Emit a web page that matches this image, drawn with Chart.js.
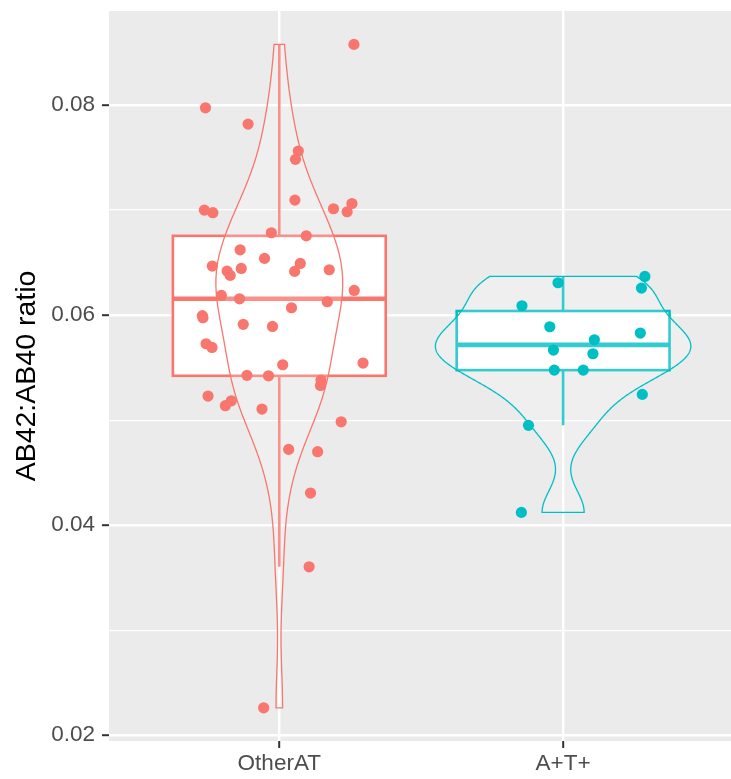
<!DOCTYPE html>
<html>
<head>
<meta charset="utf-8">
<script src="https://cdn.jsdelivr.net/npm/chart.js@4.4.1/dist/chart.umd.min.js"></script>
<style>
  html, body { margin: 0; padding: 0; background: #fff; overflow: hidden; }
  #wrap { width: 731px; height: 779px; }
</style>
</head>
<body>
<div id="wrap"><canvas id="ratioChart"></canvas></div>
<script>
// --- data ---
const categories = ['OtherAT', 'A+T+'];
const colors = ['#F8766D', '#00BFC4'];

const otherValues = [
    0.08578, 0.07974, 0.07819, 0.07562, 0.07483, 0.07095, 0.07000, 0.06975, 0.07013, 0.07063,
    0.06984, 0.06784, 0.06755, 0.06622, 0.06540, 0.06467, 0.06419, 0.06378, 0.06444, 0.06492,
    0.06416, 0.06432, 0.06235, 0.06187, 0.06155, 0.06127, 0.06070, 0.05995, 0.05975, 0.05912,
    0.05892, 0.05727, 0.05692, 0.05527, 0.05543, 0.05426, 0.05422, 0.05381, 0.05330, 0.05229,
    0.05137, 0.05184, 0.05105, 0.04984, 0.04721, 0.04699, 0.04305, 0.03603, 0.02260
];
// horizontal jitter of each point, in category units
const otherJitter = [
    0.263, -0.260, -0.110, 0.067, 0.057, 0.055, -0.264, -0.234, 0.191, 0.256,
    0.239, -0.028, 0.095, -0.138, -0.052, -0.236, -0.184, -0.173, -0.134, 0.074,
    0.054, 0.176, 0.264, -0.204, -0.140, 0.169, 0.043, -0.271, -0.269, -0.127,
    -0.024, -0.258, -0.237, 0.012, 0.295, -0.114, -0.038, 0.147, 0.145, -0.251,
    -0.190, -0.169, -0.061, 0.218, 0.033, 0.135, 0.110, 0.105, -0.055
];

const atValues = [
    0.06368, 0.06257, 0.06308, 0.06089, 0.05889, 0.05829, 0.05765,
    0.05667, 0.05632, 0.05476, 0.05476, 0.05245, 0.04950, 0.04121
];
const atJitter = [
    0.288, 0.276, -0.018, -0.145, -0.047, 0.272, 0.110,
    -0.034, 0.105, -0.031, 0.071, 0.279, -0.122, -0.147
];

const yMajor = [0.02, 0.04, 0.06, 0.08];
const yMinor = [0.03, 0.05, 0.07];
const groups = [otherValues, atValues];

// --- stats (same as R: quantile type 7, bw.nrd0) ---
function quantile(arr, p) {
    const s = [...arr].sort((a, b) => a - b);
    const h = (s.length - 1) * p;
    const lo = Math.floor(h);
    return s[lo] + (h - lo) * ((s[lo + 1] ?? s[lo]) - s[lo]);
}
function sd(arr) {
    const m = arr.reduce((a, b) => a + b, 0) / arr.length;
    return Math.sqrt(arr.reduce((a, b) => a + (b - m) ** 2, 0) / (arr.length - 1));
}
function boxStats(arr) {
    const q1 = quantile(arr, 0.25), med = quantile(arr, 0.5), q3 = quantile(arr, 0.75);
    const iqr = q3 - q1;
    const inside = arr.filter(v => v >= q1 - 1.5 * iqr && v <= q3 + 1.5 * iqr);
    return { q1, med, q3, lo: Math.min(...inside), hi: Math.max(...inside) };
}
function density(arr) {
    const iqr = quantile(arr, 0.75) - quantile(arr, 0.25);
    const bw = 0.9 * Math.min(sd(arr), iqr / 1.34) * Math.pow(arr.length, -0.2);
    const min = Math.min(...arr), max = Math.max(...arr);
    const out = [];
    for (let i = 0; i < 512; i++) {
        const y = min + (max - min) * i / 511;
        let d = 0;
        arr.forEach(v => { const z = (y - v) / bw; d += Math.exp(-0.5 * z * z); });
        out.push({ y, d: d / (arr.length * bw * Math.sqrt(2 * Math.PI)) });
    }
    return out;
}

const boxes = groups.map(boxStats);
const dens = groups.map(density);
const maxDens = Math.max(...dens.flat().map(p => p.d));

// --- background + box + violin layers ---
const panelBg = {
    id: 'panelBg',
    beforeDraw(chart) {
        const { ctx, chartArea: a } = chart;
        ctx.save();
        ctx.fillStyle = '#EBEBEB';
        ctx.fillRect(a.left, a.top, a.right - a.left, a.bottom - a.top);
        ctx.restore();
    }
};

const boxViolin = {
    id: 'boxViolin',
    beforeDatasetsDraw(chart) {
        const { ctx, chartArea: a, scales: { x, y } } = chart;
        ctx.save();
        ctx.beginPath();
        ctx.rect(a.left, a.top, a.right - a.left, a.bottom - a.top);
        ctx.clip();

        boxes.forEach((b, i) => {
            const c = i + 1;
            const xl = x.getPixelForValue(c - 0.375), xr = x.getPixelForValue(c + 0.375);
            const xc = x.getPixelForValue(c);
            ctx.strokeStyle = colors[i];
            ctx.lineWidth = 2.6;
            // whiskers
            ctx.beginPath();
            ctx.moveTo(xc, y.getPixelForValue(b.q3));
            ctx.lineTo(xc, y.getPixelForValue(b.hi));
            ctx.moveTo(xc, y.getPixelForValue(b.q1));
            ctx.lineTo(xc, y.getPixelForValue(b.lo));
            ctx.stroke();
            // box
            const yt = y.getPixelForValue(b.q3), yb = y.getPixelForValue(b.q1);
            ctx.fillStyle = '#FFFFFF';
            ctx.fillRect(xl, yt, xr - xl, yb - yt);
            ctx.strokeRect(xl, yt, xr - xl, yb - yt);
            // median
            ctx.lineWidth = 4.6;
            ctx.beginPath();
            ctx.moveTo(xl, y.getPixelForValue(b.med));
            ctx.lineTo(xr, y.getPixelForValue(b.med));
            ctx.stroke();
        });

        dens.forEach((pts, i) => {
            const c = i + 1;
            ctx.beginPath();
            pts.forEach((p, k) => {
                const px = x.getPixelForValue(c + 0.45 * p.d / maxDens);
                const py = y.getPixelForValue(p.y);
                k === 0 ? ctx.moveTo(px, py) : ctx.lineTo(px, py);
            });
            for (let k = pts.length - 1; k >= 0; k--) {
                const p = pts[k];
                ctx.lineTo(x.getPixelForValue(c - 0.45 * p.d / maxDens), y.getPixelForValue(p.y));
            }
            ctx.closePath();
            ctx.fillStyle = 'rgba(255,255,255,0.2)';
            ctx.fill();
            ctx.strokeStyle = colors[i];
            ctx.lineWidth = 1.3;
            ctx.stroke();
        });
        ctx.restore();
    }
};

const isMajor = v => yMajor.some(m => Math.abs(m - v) < 1e-9);
const font = { family: '"Liberation Sans", Arial, sans-serif', size: 22.5 };

new Chart(document.getElementById('ratioChart'), {
    type: 'scatter',
    data: {
        datasets: [
            {
                data: otherValues.map((v, i) => ({ x: 1 + otherJitter[i], y: v })),
                backgroundColor: colors[0], pointRadius: 5.6, pointBorderWidth: 0
            },
            {
                data: atValues.map((v, i) => ({ x: 2 + atJitter[i], y: v })),
                backgroundColor: colors[1], pointRadius: 5.6, pointBorderWidth: 0
            }
        ]
    },
    options: {
        responsive: true,
        maintainAspectRatio: false,
        animation: false,
        events: [],
        layout: { autoPadding: false, padding: { top: 11, right: 0, bottom: 0, left: 0 } },
        plugins: { legend: { display: false }, tooltip: { enabled: false } },
        scales: {
            x: {
                type: 'linear',
                min: 0.4,
                max: 2.5915,
                afterBuildTicks: axis => { axis.ticks = categories.map((c, i) => ({ value: i + 1 })); },
                afterFit: axis => {
                    axis.height = 38;
                    axis.paddingLeft = 0;
                    axis.paddingRight = 0;
                },
                border: { display: false },
                grid: { color: '#FFFFFF', lineWidth: 2.4, tickColor: '#333333', tickLength: 7, tickWidth: 2 },
                ticks: {
                    callback: v => categories[Math.round(v) - 1],
                    color: '#4D4D4D', font, padding: 2, autoSkip: false, maxRotation: 0
                }
            },
            y: {
                min: 0.01944,
                max: 0.08896,
                afterBuildTicks: axis => {
                    axis.ticks = [...yMajor, ...yMinor].sort((a, b) => a - b).map(v => ({ value: v }));
                },
                afterFit: axis => {
                    axis.width = 109;
                    axis.paddingTop = 0;
                    axis.paddingBottom = 0;
                },
                border: { display: false },
                grid: {
                    color: '#FFFFFF',
                    lineWidth: c => isMajor(c.tick.value) ? 2.4 : 1.2,
                    tickColor: c => isMajor(c.tick.value) ? '#333333' : 'rgba(0,0,0,0)',
                    tickLength: 7,
                    tickWidth: 2
                },
                ticks: {
                    callback: v => isMajor(v) ? v.toFixed(2) : '',
                    color: '#4D4D4D', font, padding: 7, autoSkip: false
                },
                title: {
                    display: true,
                    text: 'AB42:AB40 ratio',
                    color: '#000000',
                    font: { family: '"Liberation Sans", Arial, sans-serif', size: 28.5 },
                    padding: { top: 10, bottom: 0 }
                }
            }
        }
    },
    plugins: [panelBg, boxViolin]
});
</script>
</body>
</html>
